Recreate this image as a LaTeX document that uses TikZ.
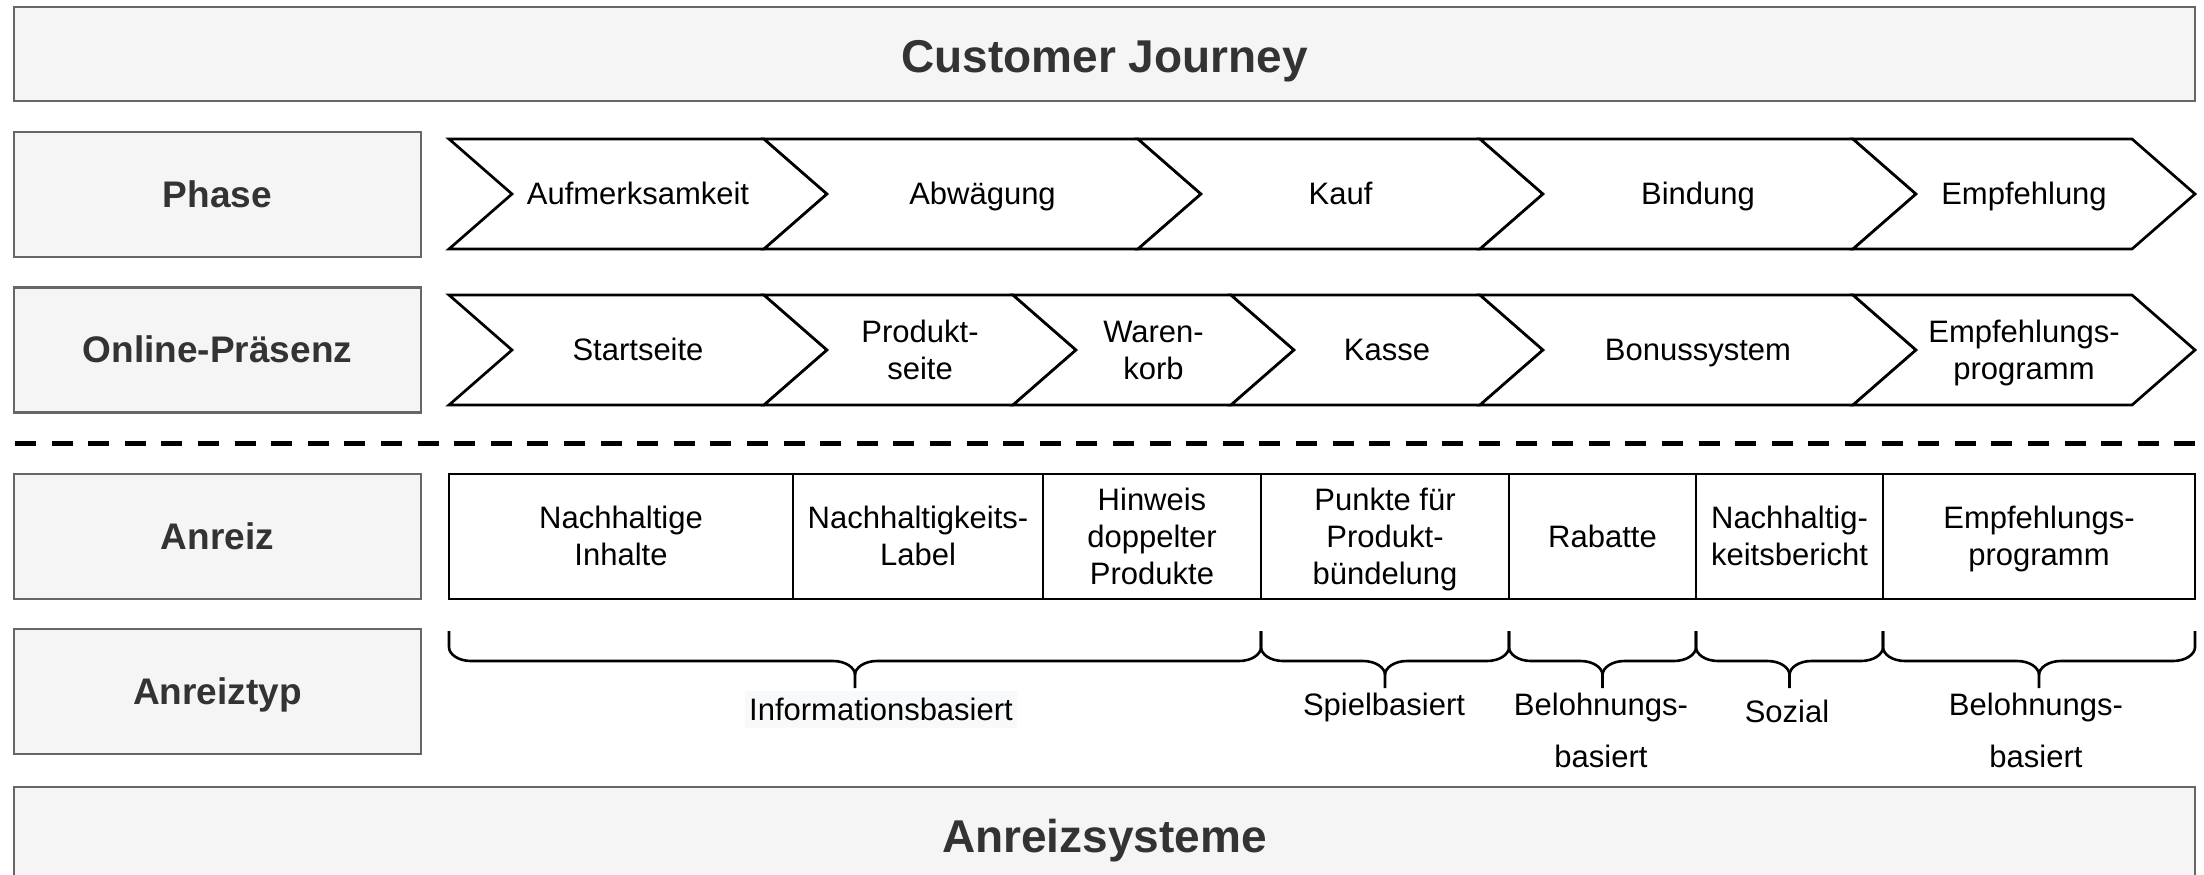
\documentclass[tikz,border=0pt]{standalone}
\usepackage{fontspec}
\setmainfont{Liberation Sans}
\definecolor{boxfill}{HTML}{F5F5F5}
\definecolor{boxline}{HTML}{666666}
\definecolor{boxtext}{HTML}{333333}
\definecolor{lblbg}{HTML}{F8F9FA}
% line struts (height above baseline / depth) imitating draw.io line boxes
\newcommand\Ln{\rule[-7.8pt]{0pt}{37.1pt}}
\newcommand\Lw{\rule[-22.6pt]{0pt}{51.9pt}}
\newcommand\Lb{\rule[-9.3pt]{0pt}{44.3pt}}
\newcommand\Lt{\rule[-11.6pt]{0pt}{55.1pt}}
% chevron: name, x-left, x-right (top corners), y-top, y-bottom, text
\newcommand\chev[6]{%
  \draw[chevshape] (#2,#4) -- (#3,#4) -- ({#3+63},{(#4+#5)/2}) -- (#3,#5) -- (#2,#5) -- ({#2+63},{(#4+#5)/2}) -- cycle;
  \node[lbl] (#1) at ({(#2+#3+63)/2},{(#4+#5)/2}) {#6};}
% curly brace below the incentive table between x1 and x2
\newcommand\cbrace[2]{%
  \draw[bracepath] (#1,631) -- (#1,647) .. controls (#1,654.7) and ({#1+9.9},661) .. ({#1+22},661)
    -- ({(#1+#2)/2-22},661) .. controls ({(#1+#2)/2-9.9},661) and ({(#1+#2)/2},667.3) .. ({(#1+#2)/2},675) -- ({(#1+#2)/2},688);
  \draw[bracepath] ({(#1+#2)/2},675) .. controls ({(#1+#2)/2},667.3) and ({(#1+#2)/2+9.9},661) .. ({(#1+#2)/2+22},661)
    -- ({#2-22},661) .. controls ({#2-9.9},661) and (#2,654.7) .. (#2,647) -- (#2,631);}
\begin{document}
\begin{tikzpicture}[x=1pt,y=-1pt,
  graybox/.style={draw=boxline, fill=boxfill, line width=2.6pt, text=boxtext, inner sep=0pt},
  rowlabel/.style={graybox, minimum width=407pt, minimum height=125pt, font=\fontsize{37}{44.4}\selectfont\bfseries},
  titlebox/.style={graybox, minimum width=2181pt, minimum height=94pt},
  titletext/.style={text=boxtext, inner sep=0pt, font=\fontsize{46}{55.2}\selectfont\bfseries},
  chevshape/.style={draw=black, fill=white, line width=2.7pt},
  lbl/.style={font=\fontsize{31}{37.2}\selectfont, align=center, inner sep=0pt},
  cell/.style={draw=black, fill=white, line width=2.7pt, minimum height=125pt, inner sep=0pt, font=\fontsize{31}{37.2}\selectfont, align=center},
  bracepath/.style={draw=black, line width=2.6pt, line cap=butt},
  sep/.style={draw=black, line width=5pt, dash pattern=on 21pt off 15.6pt}
]
\useasboundingbox (0,0) rectangle (2204,875);
\clip (0,0) rectangle (2204,875);
\fill[white] (0,0) rectangle (2204,875);

% title boxes
\node[titlebox] (cj) at (1104.5,54) {};
\node[titletext] (cjt) at (1104.5,56.5) {\Lt Customer Journey};
\node[titlebox] (as) at (1104.5,834) {};
\node[titletext] (ast) at (1104.5,836.5) {\Lt Anreizsysteme};

% row labels
\node[rowlabel] (phase) at (217.5,194.5) {\Lb Phase};
\node[rowlabel] (online) at (217.5,350) {\Lb Online-Präsenz};
\node[rowlabel] (anreiz) at (217.5,536.5) {\Lb Anreiz};
\node[rowlabel] (typ) at (217.5,691.5) {\Lb Anreiztyp};

% phase chevrons
\chev{p1}{449}{764}{139}{249}{\Ln Aufmerksamkeit}
\chev{p2}{764}{1138}{139}{249}{\Ln Abwägung}
\chev{p3}{1138}{1480}{139}{249}{\Ln Kauf}
\chev{p4}{1480}{1853}{139}{249}{\Ln Bindung}
\chev{p5}{1853}{2132}{139}{249}{\Ln Empfehlung}

% online presence chevrons
\chev{o1}{449}{764}{295}{405}{\Ln Startseite}
\chev{o2}{764}{1013}{295}{405}{\Ln Produkt-\\\Ln seite}
\chev{o3}{1013}{1231}{295}{405}{\Ln Waren-\\\Ln korb}
\chev{o4}{1231}{1480}{295}{405}{\Ln Kasse}
\chev{o5}{1480}{1853}{295}{405}{\Ln Bonussystem}
\chev{o6}{1853}{2132}{295}{405}{\Ln Empfehlungs-\\\Ln programm}

% separator
\coordinate (sepL) at (15,443);
\coordinate (sepR) at (2195,443);
\draw[sep] (sepL) -- (sepR);

% incentive table
\node[cell, minimum width=344pt] (a1) at (621,536.5) {\Ln Nachhaltige\\\Ln Inhalte};
\node[cell, minimum width=250pt] (a2) at (918,536.5) {\Ln Nachhaltigkeits-\\\Ln Label};
\node[cell, minimum width=218pt] (a3) at (1152,536.5) {\Ln Hinweis\\\Ln doppelter\\\Ln Produkte};
\node[cell, minimum width=248pt] (a4) at (1385,536.5) {\Ln Punkte für\\\Ln Produkt-\\\Ln bündelung};
\node[cell, minimum width=187pt] (a5) at (1602.5,536.5) {\Ln Rabatte};
\node[cell, minimum width=187pt] (a6) at (1789.5,536.5) {\Ln Nachhaltig-\\\Ln keitsbericht};
\node[cell, minimum width=312pt] (a7) at (2039,536.5) {\Ln Empfehlungs-\\\Ln programm};

% braces
\cbrace{449}{1261}
\cbrace{1261}{1509}
\cbrace{1509}{1696}
\cbrace{1696}{1883}
\cbrace{1883}{2195}

% incentive types
\node[lbl, fill=lblbg, inner xsep=4pt] (tInfo) at (881,709.3) {\Ln Informationsbasiert};
\node[lbl] (tSpiel) at (1384,704.3) {\Ln Spielbasiert};
\node[lbl, font=\fontsize{31}{52}\selectfont] (tBel1) at (1601,738.6) {\Lw Belohnungs-\\\Lw basiert};
\node[lbl] (tSoz) at (1787,711.3) {\Ln Sozial};
\node[lbl, font=\fontsize{31}{52}\selectfont] (tBel2) at (2036,738.6) {\Lw Belohnungs-\\\Lw basiert};
\end{tikzpicture}
\end{document}
